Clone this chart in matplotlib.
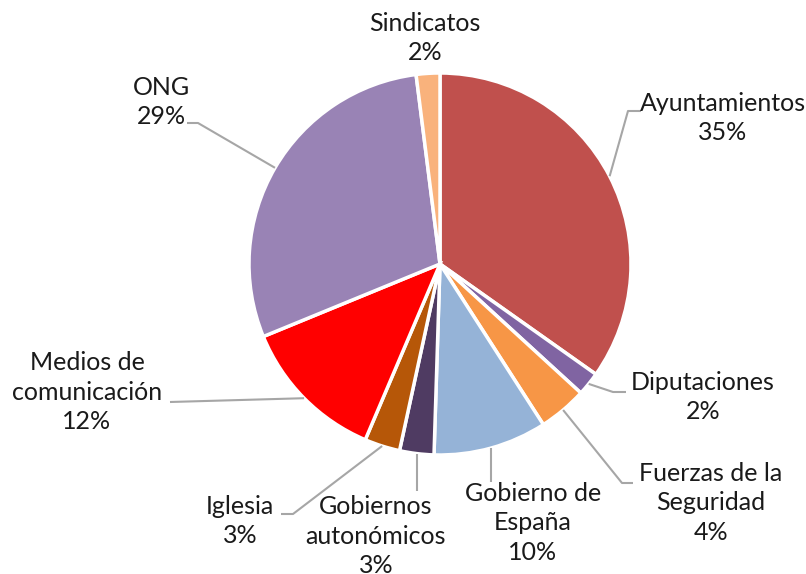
import numpy as np
import matplotlib
matplotlib.use("Agg")
import matplotlib.pyplot as plt

# ---- data ----
categories = ["Ayuntamientos", "Diputaciones", "Fuerzas de la\nSeguridad",
              "Gobierno de\nEspaña", "Gobiernos\nautonómicos", "Iglesia",
              "Medios de\ncomunicación", "ONG", "Sindicatos"]
values = [34.8, 2.0, 4.1, 9.6, 2.9, 3.0, 12.4, 29.2, 2.0]
colors = ["#c0504d", "#8064a2", "#f79646", "#95b3d7", "#4f3b62",
          "#b65708", "#ff0000", "#9983b5", "#f9b27c"]

# ---- layout (pixel coordinates, y measured from top) ----
W, H = 806, 574
CX, CY, R = 440, 264, 191
# label block centres
label_pos = [(723, 118), (703, 397), (711, 503), (533, 523), (376, 536),
             (240, 521), (87, 392), (161, 102), (425, 38)]
# leader lines: list of extra points after the wedge edge point
leaders = [[(628, 111), (641, 111)],
           [(613, 392), (626, 392)],
           [(622, 483), (633, 483)],
           [(None, 482)],
           [(None, 491)],
           [(293, 514), (281, 514)],
           [(170, 402)],
           [(198, 123), (187, 123)],
           None]

plt.rcParams['font.family'] = ['Lato', 'DejaVu Sans']

fig = plt.figure(figsize=(W / 100, H / 100), dpi=100)
ax = fig.add_axes([0, 0, 1, 1])

wedges, _ = ax.pie(values, colors=colors, startangle=90, counterclock=False,
                   center=(CX, H - CY), radius=R,
                   wedgeprops=dict(edgecolor="white", linewidth=2.5))
ax.set_xlim(0, W)
ax.set_ylim(0, H)
ax.set_aspect("equal")
ax.axis("off")

total = sum(values)
for i, (w, cat) in enumerate(zip(wedges, categories)):
    pct = round(values[i] / total * 100)
    lx, ly = label_pos[i]
    ax.text(lx, H - ly, f"{cat}\n{pct}%", ha="center", va="center",
            multialignment="center", fontsize=18, color="#1a1a1a",
            linespacing=1.33)
    if leaders[i] is not None:
        mid = np.deg2rad((w.theta1 + w.theta2) / 2)
        x0 = CX + R * np.cos(mid)
        y0 = (H - CY) + R * np.sin(mid)
        xs, ys = [x0], [y0]
        for (px, py) in leaders[i]:
            xs.append(x0 if px is None else px)
            ys.append(H - py)
        ax.plot(xs, ys, color="#a6a6a6", lw=1.5, solid_capstyle="butt")

fig.savefig("out.png", dpi=100)
